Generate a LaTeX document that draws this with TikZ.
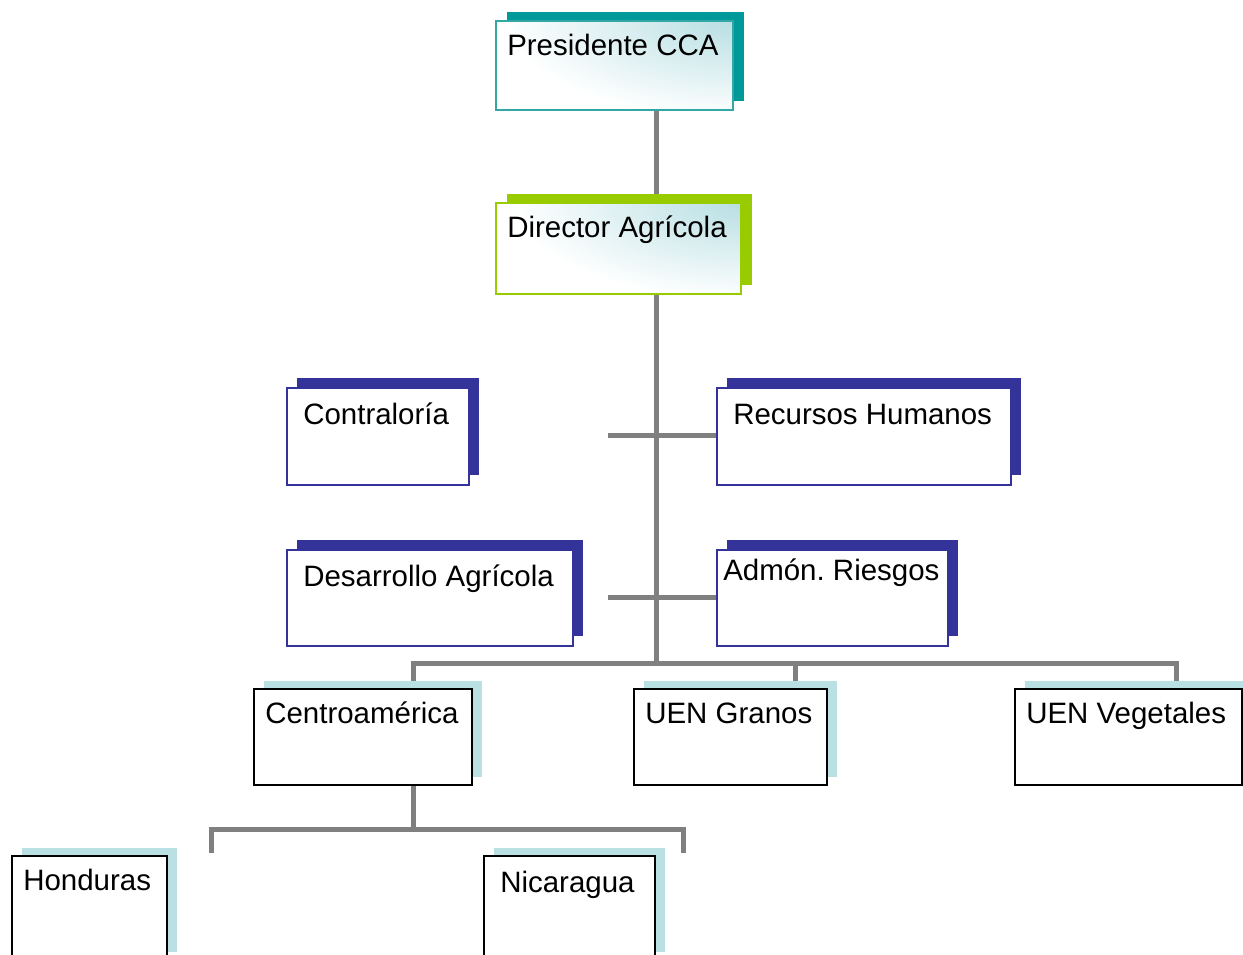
\documentclass[tikz,border=0pt]{standalone}
\usepackage{fontspec}
\setmainfont{Liberation Sans}
\usetikzlibrary{shadows,calc}
\pgfdeclarelayer{bg}
\pgfsetlayers{bg,main}
\definecolor{tealS}{HTML}{009999}
\definecolor{tealB}{HTML}{33A6A6}
\definecolor{greenS}{HTML}{99CC00}
\definecolor{navy}{HTML}{333399}
\definecolor{lblue}{HTML}{B9E0E3}
\definecolor{conn}{HTML}{808080}
\definecolor{tint}{HTML}{B8DFE3}
\pgfdeclareradialshading{cornerglow}{\pgfpoint{0bp}{0bp}}{color(0bp)=(tint); color(23bp)=(white); color(50bp)=(white)}
\tikzset{
  box/.style={rectangle, anchor=north west, inner sep=0pt},
  topbox/.style 2 args={box, draw=#1, line width=1.5pt, fill=white,
    path picture={\fill[shading=cornerglow]
      ($(path picture bounding box.north east)+(-185pt,-78pt)$) rectangle
      ($(path picture bounding box.north east)+(185pt,78pt)$);},
    drop shadow={shadow xshift=7.9pt, shadow yshift=6.4pt, fill=#2, opacity=1}},
  midbox/.style={box, draw=navy, fill=white, line width=1.3pt,
    drop shadow={shadow xshift=7.9pt, shadow yshift=7.4pt, fill=navy, opacity=1}},
  lowbox/.style={box, draw=black, fill=white, line width=1.4pt,
    drop shadow={shadow xshift=7.9pt, shadow yshift=6pt, fill=lblue, opacity=1}},
  lbl/.style={anchor=base west, inner sep=0pt, font=\fontsize{22.1pt}{26pt}\selectfont},
  link/.style={draw=conn, line width=3.75pt}
}
\begin{document}
\begin{tikzpicture}[x=0.75pt,y=-0.75pt]
\useasboundingbox (0,0) rectangle (1243,954);
\clip (0,0) rectangle (1243,954);
% boxes
\node[topbox={tealB}{tealS}, minimum width=177.75pt, minimum height=66.75pt] (pres) at (495,20) {};
\node[topbox={greenS}{greenS}, minimum width=183.75pt, minimum height=68.25pt] (dir) at (495,202) {};
\node[midbox, minimum width=136.5pt, minimum height=72.75pt] (contr) at (286,387) {};
\node[midbox, minimum width=220.5pt, minimum height=72.75pt] (rh) at (716,387) {};
\node[midbox, minimum width=214.5pt, minimum height=72pt] (des) at (286,549) {};
\node[midbox, minimum width=173.25pt, minimum height=72pt] (adm) at (716,549) {};
\node[lowbox, minimum width=163.5pt, minimum height=72pt] (cen) at (253,688) {};
\node[lowbox, minimum width=144.75pt, minimum height=72pt] (gra) at (633,688) {};
\node[lowbox, minimum width=170.25pt, minimum height=72pt] (veg) at (1014,688) {};
\node[lowbox, minimum width=116.25pt, minimum height=78pt] (hon) at (11,855) {};
\node[lowbox, minimum width=128.25pt, minimum height=78pt] (nic) at (483,855) {};
% labels
\node[lbl] (presT) at (507,55) {Presidente CCA};
\node[lbl] (dirT) at (507,237) {Director Agrícola};
\node[lbl] (contrT) at (303,424) {Contraloría};
\node[lbl] (rhT) at (733,424) {Recursos Humanos};
\node[lbl] (desT) at (303,586) {Desarrollo Agrícola};
\node[lbl] (admT) at (723,580) {Admón.\ Riesgos};
\node[lbl] (cenT) at (265,723) {Centroamérica};
\node[lbl] (graT) at (645,723) {UEN Granos};
\node[lbl] (vegT) at (1026,723) {UEN Vegetales};
\node[lbl] (honT) at (23,890) {Honduras};
\node[lbl] (nicT) at (500,892) {Nicaragua};
% junction coordinates
\coordinate (spine) at (656,0);
\coordinate (hub) at (656,663);
\coordinate (c1) at (608,435);
\coordinate (c2) at (608,597);
\coordinate (b1) at (413,663);
\coordinate (b2) at (795,663);
\coordinate (b3) at (1176,663);
\coordinate (d0) at (413,829);
\coordinate (d2) at (683,829);
\coordinate (e1) at (211,853);
\coordinate (e2) at (683,853);
\begin{pgfonlayer}{bg}
\draw[link] (pres.south -| spine) -- (dir.north -| spine);
\draw[link] (dir.south -| spine) -- (hub);
\draw[link] (c1) -- (c1 -| rh.west);
\draw[link] (c2) -- (c2 -| adm.west);
\draw[link] (cen.north -| b1) |- (b3) -- (veg.north -| b3);
\draw[link] (b2) -- (gra.north -| b2);
\draw[link] (cen.south -| d0) -- (d0);
\draw[link] (e1) |- (d2) -- (e2);
\end{pgfonlayer}
\end{tikzpicture}
\end{document}
